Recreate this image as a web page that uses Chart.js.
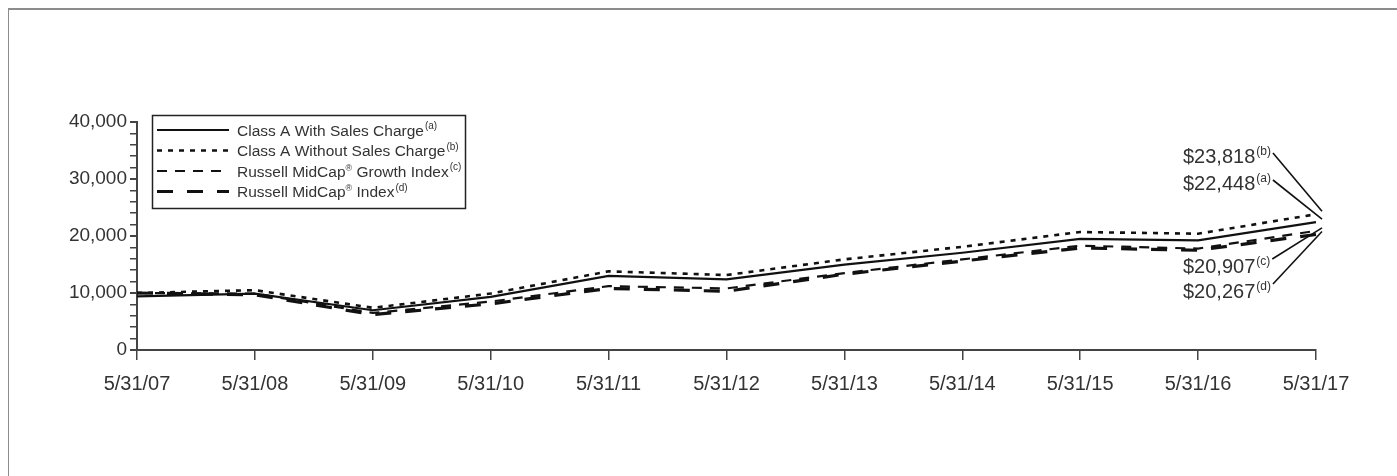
<!DOCTYPE html>
<html>
<head>
<meta charset="utf-8">
<script src="https://cdn.jsdelivr.net/npm/chart.js@4.4.0/dist/chart.umd.min.js"></script>
<style>
  html, body { margin: 0; padding: 0; background: #fff; overflow: hidden; }
  #frame { position: absolute; left: 8px; top: 8px; width: 1400px; height: 480px;
           border-left: 1.5px solid #8c8c8c; border-top: 2px solid #8c8c8c; }
  #growth { position: absolute; left: 0; top: 0; }
</style>
</head>
<body>
<div id="frame"></div>
<canvas id="growth" width="1397" height="476"></canvas>
<script>
// Growth of a $10,000 investment, fiscal years ending May 31
const dates = ['5/31/07', '5/31/08', '5/31/09', '5/31/10', '5/31/11', '5/31/12',
               '5/31/13', '5/31/14', '5/31/15', '5/31/16', '5/31/17'];

const withSalesCharge    = [9425, 9896, 6975, 9331, 13007, 12394, 14986, 17059, 19510, 19227, 22448];
const withoutSalesCharge = [10000, 10500, 7400, 9900, 13800, 13150, 15900, 18100, 20700, 20400, 23818];
const midCapGrowth       = [10000, 9900, 6500, 8500, 11200, 10800, 13500, 15900, 18300, 17800, 20907];
const midCapIndex        = [10000, 9700, 6200, 8100, 10800, 10300, 13300, 15600, 17900, 17500, 20267];

const seriesNames = ['Class A With Sales Charge', 'Class A Without Sales Charge',
                     'Russell MidCap® Growth Index', 'Russell MidCap® Index'];
const notes = ['a', 'b', 'c', 'd'];

const yTicks = [0, 10000, 20000, 30000, 40000];

const FONT = '"Liberation Sans", Arial, Helvetica, sans-serif';
const INK = '#111';
const TEXT = '#333';

const styles = [
    { borderWidth: 2.2, borderDash: [] },
    { borderWidth: 2.6, borderDash: [5, 6] },
    { borderWidth: 2.2, borderDash: [10, 8] },
    { borderWidth: 3.2, borderDash: [16, 14] },
];

// draws text where ® is raised, followed by a raised (note); returns end x
function drawRich(ctx, x, y, text, note, size) {
    ctx.textBaseline = 'alphabetic';
    ctx.textAlign = 'left';
    const parts = text.split('®');
    parts.forEach((part, i) => {
        ctx.font = size + 'px ' + FONT;
        ctx.fillText(part, x, y);
        x += ctx.measureText(part).width;
        if (i < parts.length - 1) {
            ctx.font = Math.round(size * 0.55) + 'px ' + FONT;
            ctx.fillText('®', x, y - size * 0.38);
            x += ctx.measureText('®').width;
        }
    });
    ctx.font = Math.round(size * 0.62) + 'px ' + FONT;
    const sup = '(' + note + ')';
    ctx.fillText(sup, x + 1, y - size * 0.4);
    return x + 1 + ctx.measureText(sup).width;
}

const legendBox = {
    id: 'legendBox',
    afterDraw(chart) {
        const ctx = chart.ctx;
        const x0 = 152, y0 = 115, w = 313, h = 93;
        ctx.save();
        ctx.strokeStyle = '#222';
        ctx.lineWidth = 1.5;
        ctx.strokeRect(x0 + 0.5, y0 + 0.5, w, h);
        seriesNames.forEach((name, i) => {
            const cy = y0 + 15 + i * 20.5;
            ctx.beginPath();
            ctx.strokeStyle = INK;
            ctx.lineWidth = styles[i].borderWidth;
            ctx.setLineDash(styles[i].borderDash);
            ctx.moveTo(157, cy);
            ctx.lineTo(229, cy);
            ctx.stroke();
            ctx.setLineDash([]);
            ctx.fillStyle = TEXT;
            drawRich(ctx, 237, cy + 5.5, name, notes[i], 15.5);
        });
        ctx.restore();
    }
};

// ending values with leader lines to the last point of each series
const endLabels = {
    id: 'endLabels',
    afterDraw(chart) {
        const ctx = chart.ctx;
        const textX = chart.chartArea.right - 133;
        const baselines = [190, 163, 273, 298];
        ctx.save();
        chart.data.datasets.forEach((ds, i) => {
            const pt = chart.getDatasetMeta(i).data[ds.data.length - 1];
            const value = ds.data[ds.data.length - 1];
            ctx.fillStyle = TEXT;
            const end = drawRich(ctx, textX, baselines[i], '$' + value.toLocaleString('en-US'), notes[i], 20);
            ctx.beginPath();
            ctx.strokeStyle = INK;
            ctx.lineWidth = 1.6;
            ctx.moveTo(end + 2, baselines[i] - (i < 2 ? 10 : 14));
            ctx.lineTo(pt.x + 6, pt.y - 3);
            ctx.stroke();
        });
        ctx.restore();
    }
};

const datasets = [withSalesCharge, withoutSalesCharge, midCapGrowth, midCapIndex].map((values, i) => ({
    label: seriesNames[i],
    data: values,
    borderColor: INK,
    borderWidth: styles[i].borderWidth,
    borderDash: styles[i].borderDash,
    borderCapStyle: 'butt',
    pointRadius: 0,
    tension: 0,
    fill: false,
}));

new Chart(document.getElementById('growth').getContext('2d'), {
    type: 'line',
    data: { labels: dates, datasets: datasets },
    options: {
        responsive: false,
        animation: false,
        layout: { padding: { left: 0, top: 122, right: 81, bottom: 80 } },
        plugins: { legend: { display: false }, tooltip: { enabled: false } },
        scales: {
            x: {
                type: 'category',
                offset: false,
                afterFit(scale) { scale.height = 46; },
                grid: { drawOnChartArea: false, drawTicks: true, tickLength: 10, color: '#444', lineWidth: 1.5 },
                border: { display: true, color: '#444', width: 2 },
                ticks: { color: TEXT, font: { family: FONT, size: 20 }, padding: 12, maxRotation: 0, autoSkip: false },
            },
            y: {
                min: 0,
                max: 40000,
                afterFit(scale) { scale.width = 137; },
                grid: {
                    drawOnChartArea: false, drawTicks: true, tickLength: 7, color: '#444',
                    lineWidth: c => yTicks.includes(c.tick.value) ? 2 : 1.5,
                },
                border: { display: true, color: '#444', width: 2 },
                ticks: {
                    stepSize: 2000,
                    maxTicksLimit: 30,
                    autoSkip: false,
                    color: TEXT,
                    font: { family: FONT, size: 19 },
                    padding: 3,
                    callback: v => yTicks.includes(v) ? v.toLocaleString('en-US') : '',
                },
            },
        },
    },
    plugins: [legendBox, endLabels],
});
</script>
</body>
</html>
